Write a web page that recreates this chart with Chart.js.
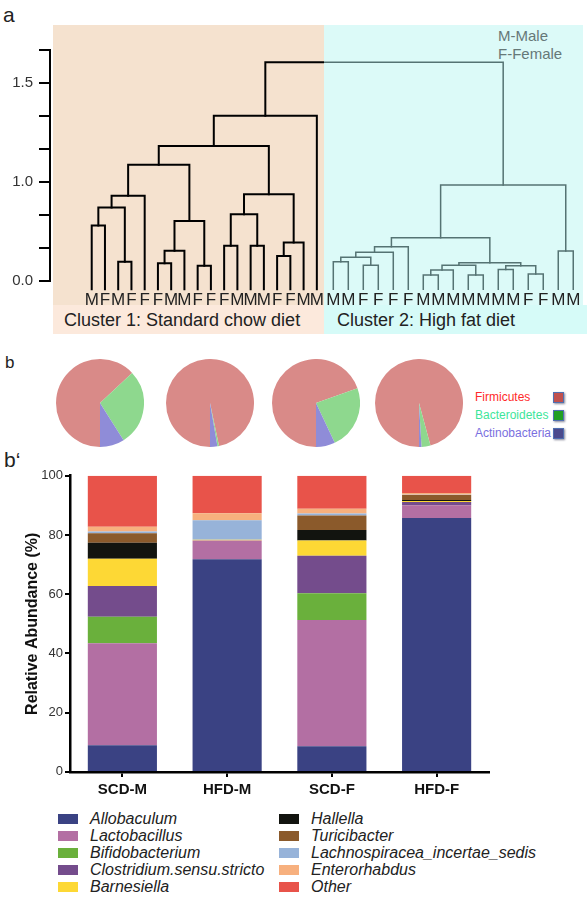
<!DOCTYPE html>
<html>
<head>
<meta charset="utf-8">
<script src="https://cdn.jsdelivr.net/npm/chart.js@4.4.0/dist/chart.umd.min.js"></script>
<style>
  body { margin: 0; width: 587px; height: 900px; position: relative; background: #fff; overflow: hidden;
         font-family: "Liberation Sans", Arial, sans-serif; color: #222; }
  .abs { position: absolute; line-height: 1; white-space: nowrap; }
  canvas { position: absolute; }
  .sq { position: absolute; width: 9px; height: 9px; border: 1px solid #4f6fb0; box-shadow: 1px 1px 2px #889; }
  .lbox { position: absolute; width: 20px; height: 10px; }
  .ltxt { position: absolute; font-style: italic; font-size: 16px; line-height: 1; white-space: nowrap; }
</style>
</head>
<body>
<!-- panel a backgrounds -->
<div class="abs" style="left:53px;top:25px;width:271px;height:280px;background:#f5e2cf"></div>
<div class="abs" style="left:53px;top:305px;width:271px;height:29px;background:#fce9dc"></div>
<div class="abs" style="left:324px;top:25px;width:259px;height:280px;background:#dcfaf8"></div>
<div class="abs" style="left:324px;top:305px;width:263px;height:29px;background:#d6fbf8"></div>

<div class="abs" style="left:3px;top:4px;font-size:21px">a</div>
<div class="abs" style="left:498px;top:28px;font-size:15px;color:#667878">M-Male</div>
<div class="abs" style="left:498px;top:46px;font-size:15px;color:#667878">F-Female</div>
<div class="abs" style="left:64px;top:311px;font-size:18px">Cluster 1: Standard chow diet</div>
<div class="abs" style="left:337px;top:311px;font-size:18px">Cluster 2: High fat diet</div>

<canvas id="dendroScd" width="324" height="320" style="left:0;top:0"></canvas>
<canvas id="dendroHfd" width="259" height="320" style="left:324px;top:0"></canvas>

<!-- panel b -->
<div class="abs" style="left:5px;top:354px;font-size:17px">b</div>
<canvas id="pie0" width="88" height="88"></canvas>
<canvas id="pie1" width="88" height="88"></canvas>
<canvas id="pie2" width="88" height="88"></canvas>
<canvas id="pie3" width="88" height="88"></canvas>
<div id="pieLegend"></div>

<!-- panel b' -->
<div class="abs" style="left:4px;top:449px;font-size:21px">b‘</div>
<canvas id="bars" width="500" height="340" style="left:0;top:460px"></canvas>
<div id="barLegend"></div>

<script>
// ---- dendrogram (heights in tick units: one unit per axis tick) ----
const yTickLabels = ['0.0', '', '', '1.0', '', '', '1.5', ''];
const leafBottom = -0.25;
const rootHeight = 6.63;

const scdLeaves = ['M','F','M','F','F','F','M','M','F','F','F','M','M','M','F','F','M','M'];
// [child a, child b, height]; new nodes get ids after the leaves
const scdMerges = [
  [0, 1, 1.68], [2, 3, 0.58], [18, 19, 2.23], [20, 4, 2.58],
  [5, 6, 0.54], [22, 7, 0.92], [8, 9, 0.46], [23, 24, 1.82],
  [21, 25, 3.52], [10, 11, 1.07], [12, 13, 1.07], [27, 28, 2.02],
  [14, 15, 0.76], [30, 16, 1.17], [29, 31, 2.63], [26, 32, 4.09],
  [33, 17, 5.01]
];

const hfdLeaves = ['M','M','F','F','F','F','M','M','M','M','M','M','M','F','F','M','M'];
const hfdMerges = [
  [0, 1, 0.58], [2, 3, 0.48], [17, 18, 0.72], [19, 4, 0.87],
  [20, 5, 1.04], [6, 7, 0.18], [22, 8, 0.33], [9, 10, 0.18],
  [23, 24, 0.48], [11, 12, 0.35], [13, 14, 0.21], [26, 27, 0.46],
  [25, 28, 0.55], [21, 29, 1.31], [15, 16, 0.91], [30, 31, 2.91]
];

// ---- phylum pies ----
const pieGroups = ['SCD-M', 'HFD-M', 'SCD-F', 'HFD-F'];
const phyla = ['Firmicutes', 'Bacteroidetes', 'Actinobacteria'];
const firmicutes = [63.0, 96.7, 69.6, 95.8];
const bacteroidetes = [28.0, 0.6, 23.4, 3.3];
const actinobacteria = [9.0, 2.7, 7.0, 0.9];

// ---- genus stacked bars ----
const groups = ['SCD-M', 'HFD-M', 'SCD-F', 'HFD-F'];
const genera = ['Allobaculum', 'Lactobacillus', 'Bifidobacterium', 'Clostridium.sensu.stricto', 'Barnesiella',
                'Hallella', 'Turicibacter', 'Lachnospiracea_incertae_sedis', 'Enterorhabdus', 'Other'];
const allobaculum    = [9.0, 71.8, 8.7, 85.7];
const lactobacillus  = [34.4, 6.3, 42.6, 4.3];
const bifidobacterium = [9.0, 0, 9.0, 0];
const clostridium    = [10.4, 0, 12.7, 1.1];
const barnesiella    = [9.2, 0.3, 5.1, 0.4];
const hallella       = [5.4, 0, 3.6, 0.3];
const turicibacter   = [3.2, 0, 4.9, 1.7];
const lachnospiracea = [0.6, 6.6, 0.6, 0.1];
const enterorhabdus  = [1.6, 2.3, 1.6, 0.6];
const other          = [17.2, 12.7, 11.2, 5.8];

const generaColors = ['#3a4283', '#b36fa3', '#6ab03c', '#744c8c', '#fdd835',
                      '#12140f', '#8b5a2b', '#97b3d9', '#f7b07e', '#e8534a'];
const phylumColors = ['#d98a88', '#8ed88e', '#8f8cd8'];
const phylumTextColors = ['#ff2a2a', '#3de69a', '#7a6fe0'];
const phylumSquareColors = ['#c0504d', '#22a022', '#4b4a8c'];

const FONT = '"Liberation Sans", Arial, sans-serif';
Chart.defaults.font.family = FONT;
Chart.defaults.animation = false;

function linkSegments(leaves, merges) {
  const pos = leaves.map((_, i) => ({ x: i, y: leafBottom }));
  const segs = [];
  merges.forEach(([a, b, h]) => {
    const A = pos[a], B = pos[b];
    segs.push([{ x: A.x, y: A.y }, { x: A.x, y: h }, { x: B.x, y: h }, { x: B.x, y: B.y }]);
    pos.push({ x: (A.x + B.x) / 2, y: h });
  });
  return { segs, top: pos[pos.length - 1] };
}

function lineSet(data, color, width) {
  return { data, showLine: true, borderColor: color, borderWidth: width, pointRadius: 0,
           clip: false, borderJoinStyle: 'miter', borderCapStyle: 'square' };
}

function dendroChart(id, leaves, merges, xMin, xMax, color, width, showY, rootSide) {
  const d = linkSegments(leaves, merges);
  const sets = d.segs.map(s => lineSet(s, color, width));
  const rootLine = rootSide === 'left'
    ? [{ x: d.top.x, y: d.top.y }, { x: d.top.x, y: rootHeight }, { x: xMax, y: rootHeight }]
    : [{ x: xMin, y: rootHeight }, { x: d.top.x, y: rootHeight }, { x: d.top.x, y: d.top.y }];
  sets.push(lineSet(rootLine, color, width));
  return new Chart(document.getElementById(id), {
    type: 'scatter',
    data: { datasets: sets },
    options: {
      responsive: false,
      layout: { padding: { top: 50, left: 0, right: 0, bottom: 0 } },
      plugins: { legend: { display: false }, tooltip: { enabled: false } },
      scales: {
        x: {
          type: 'linear', min: xMin, max: xMax,
          grid: { display: false, drawTicks: false }, border: { display: false },
          afterBuildTicks: s => { s.ticks = leaves.map((_, i) => ({ value: i })); },
          afterFit: s => { s.height = 39; s.paddingLeft = 0; s.paddingRight = 0; },
          ticks: { autoSkip: false, maxRotation: 0, minRotation: 0, padding: 9, color: '#222',
                   font: { size: 17 }, callback: (v, i) => leaves[i] }
        },
        y: {
          display: showY, min: 0, max: 7,
          afterFit: s => { s.width = showY ? 50 : 0; },
          ticks: { stepSize: 1, padding: 6, color: '#333', font: { size: 15 }, callback: v => yTickLabels[v] },
          grid: { drawOnChartArea: false, tickLength: 11, color: '#000', lineWidth: 2 },
          border: { color: '#000', width: 2 }
        }
      }
    }
  });
}

dendroChart('dendroScd', scdLeaves, scdMerges, -3.15, 17.54, '#000', 2, true, 'left');
dendroChart('dendroHfd', hfdLeaves, hfdMerges, -0.62, 16.65, '#557373', 1.5, false, 'right');

// pies
const pieCenters = [100, 209.5, 315.5, 419];
const pieCenterY = 402.7;
pieGroups.forEach((g, i) => {
  const c = document.getElementById('pie' + i);
  c.style.left = (pieCenters[i] - 44) + 'px';
  c.style.top = (pieCenterY - 44) + 'px';
  new Chart(c, {
    type: 'pie',
    data: { labels: phyla, datasets: [{ data: [firmicutes[i], bacteroidetes[i], actinobacteria[i]],
            backgroundColor: phylumColors, borderWidth: 0 }] },
    options: { responsive: false, rotation: 180,
               plugins: { legend: { display: false }, tooltip: { enabled: false } } }
  });
});

const pieLegend = document.getElementById('pieLegend');
phyla.forEach((p, i) => {
  const y = 397 + i * 17.8;
  pieLegend.insertAdjacentHTML('beforeend',
    `<div class="abs" style="left:475px;top:${y - 6}px;font-size:12px;color:${phylumTextColors[i]}">${p}</div>` +
    `<div class="sq" style="left:553px;top:${y - 5}px;background:${phylumSquareColors[i]}"></div>`);
});

// stacked bars
const generaValues = [allobaculum, lactobacillus, bifidobacterium, clostridium, barnesiella,
                      hallella, turicibacter, lachnospiracea, enterorhabdus, other];
new Chart(document.getElementById('bars'), {
  type: 'bar',
  data: {
    labels: groups,
    datasets: genera.map((g, i) => ({ label: g, data: generaValues[i], backgroundColor: generaColors[i],
                                      borderWidth: 0, barPercentage: 0.66, categoryPercentage: 1 }))
  },
  options: {
    responsive: false,
    layout: { padding: { top: 15.7, right: 11, left: 0, bottom: 0 } },
    plugins: { legend: { display: false }, tooltip: { enabled: false } },
    scales: {
      x: {
        stacked: true,
        afterFit: s => { s.height = 28.1; },
        grid: { offset: false, drawOnChartArea: false, tickLength: 5, color: '#000', lineWidth: 2 },
        border: { color: '#000', width: 2.5 },
        ticks: { padding: 4, color: '#111', font: { size: 15, weight: 'bold' } }
      },
      y: {
        stacked: true, min: 0, max: 100,
        afterFit: s => { s.width = 70; },
        title: { display: true, text: 'Relative Abundance (%)', color: '#111',
                 font: { size: 16, weight: 'bold' }, padding: { top: 23, bottom: 0 } },
        grid: { drawOnChartArea: false, tickLength: 5, color: '#000', lineWidth: 2 },
        border: { color: '#000', width: 2.5 },
        ticks: { stepSize: 20, padding: 2, color: '#333', font: { size: 13 } }
      }
    }
  }
});

const barLegend = document.getElementById('barLegend');
const legendRows = [819, 836, 853, 870, 887];
genera.forEach((g, i) => {
  const col = i < 5 ? 0 : 1;
  const y = legendRows[i % 5];
  const bx = col ? 279 : 58, tx = col ? 311 : 90;
  barLegend.insertAdjacentHTML('beforeend',
    `<div class="lbox" style="left:${bx}px;top:${y - 5}px;background:${generaColors[i]}"></div>` +
    `<div class="ltxt" style="left:${tx}px;top:${y - 8}px">${g}</div>`);
});
</script>
</body>
</html>
